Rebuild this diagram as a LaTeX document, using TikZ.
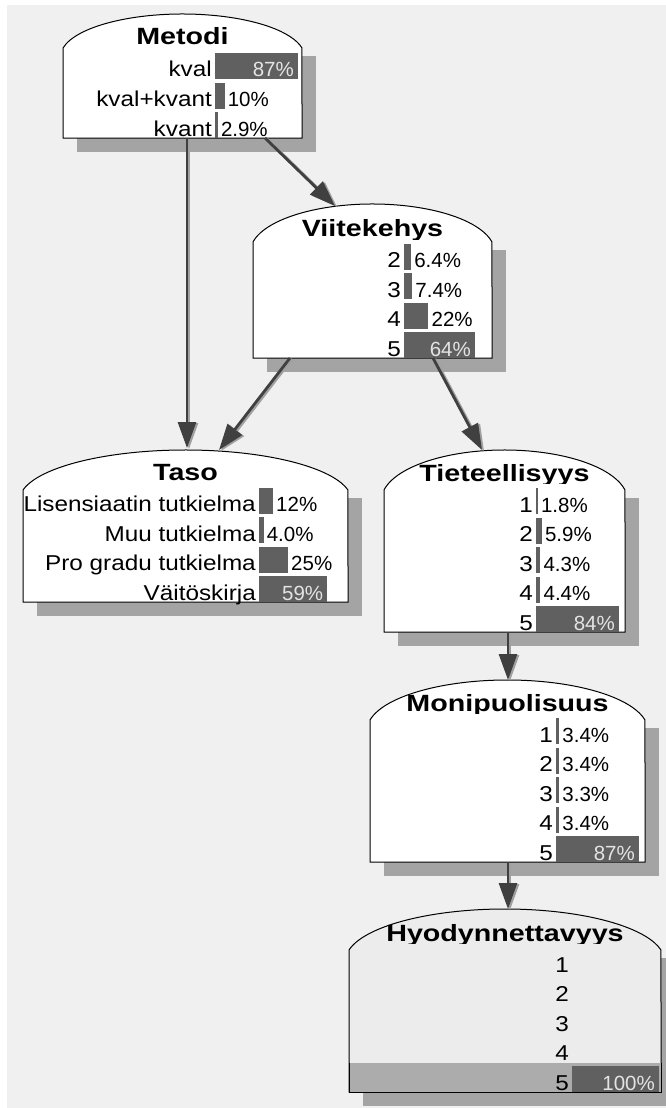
\documentclass[tikz,border=0pt]{standalone}
\usepackage{fontspec}
\setmainfont{Liberation Sans}
\newfontfamily\lblfont[FakeStretch=1.13]{Liberation Sans}
\newfontfamily\pctfont{Liberation Sans}
\newfontfamily\ttlfont[FakeStretch=1.22]{Liberation Sans}
\usetikzlibrary{arrows.meta,calc}

\definecolor{bgc}{HTML}{F0F0F0}
\definecolor{shadowc}{HTML}{A4A4A4}
\definecolor{barc}{HTML}{606060}
\definecolor{arrowc}{HTML}{404040}
\definecolor{arrowsh}{HTML}{A0A0A0}
\definecolor{pcttext}{HTML}{E4E4E4}
\definecolor{hyodfill}{HTML}{ECECEC}
\definecolor{bandc}{HTML}{ACACAC}

\tikzset{
  lbl/.style={inner sep=0pt, anchor=base east, font=\lblfont\fontsize{21.5}{21.5}\selectfont},
  pctout/.style={inner sep=0pt, anchor=base west, font=\pctfont\fontsize{20.5}{20.5}\selectfont},
  pctin/.style={pctout, anchor=base east, text=pcttext},
  ttl/.style={inner sep=0pt, anchor=base, font=\ttlfont\bfseries\fontsize{23.5}{23.5}\selectfont},
  edgeline/.style={line width=2.8pt, draw=arrowc, -{Triangle[length=26pt,width=18pt]}},
  edgeshadow/.style={edgeline, draw=arrowsh, transform canvas={xshift=2pt,yshift=-1pt}},
}

% box with rounded top: name, left, right, arc top, side top, bottom, fill
\newcommand\netbox[7]{%
  \pgfmathsetmacro\ra{(#3-#2)/2/cos(12)}%
  \pgfmathsetmacro\rb{(#5-#4)/(1-sin(12))}%
  \fill[shadowc] (#2+14,#5+8) rectangle (#3+14,#6+14);
  \node[inner sep=0pt, outer sep=0pt, minimum width={#3-#2}, minimum height={#6-#4}, anchor=north west] (#1) at (#2,#4) {};
  \draw[line width=1pt, fill=#7] (#2,#6) -- (#2,#5)
    arc[start angle=192, end angle=348, x radius=\ra, y radius=\rb] -- (#3,#6) -- cycle;
}
% title clipped just below its baseline: name, left, right, top, baseline, text
\newcommand\nettitle[6]{%
  \begin{scope}
    \clip (#2,#4) rectangle (#3,#5+2.5);
    \node[ttl] (#1) at ({(#2+#3)/2},#5) {#6};
  \end{scope}
}
% state label: name, bar base x, row bottom, text
\newcommand\rowlbl[4]{\node[lbl] (#1) at (#2-3,#3-2) {#4};}
% belief bar: name, bar base x, row bottom, width, text, text inside (1) or after (0)
\newcommand\rowbar[6]{%
  \fill[barc] (#2,#3-26) rectangle (#2+#4,#3);
  \ifnum#6=1 \node[pctin] (#1) at (#2+#4-4,#3-2) {#5};%
  \else \node[pctout] (#1) at (#2+#4+3,#3-2) {#5};\fi
}
% link between two boxes: from node, x offset on its bottom, to node, offset on its top
\newcommand\netlink[5]{%
  \draw[edgeshadow] ($(#1.south west)+(#2,0)$) -- ($(#3.north west)+(#4,#5)$);
  \draw[edgeline] ($(#1.south west)+(#2,0)$) -- ($(#3.north west)+(#4,#5)$);
}

\begin{document}
\begin{tikzpicture}[x=1pt,y=-1pt]
\clip (0,0) rectangle (666,1108);
\fill[white] (0,0) rectangle (666,1108);
\fill[bgc] (7,5) rectangle (666,1108);

% ---- Metodi
\netbox{metodi}{63}{302}{14}{48}{138}{white}
\nettitle{metodiT}{63}{302}{10}{45}{Metodi}
\rowlbl{metodiL1}{215}{79}{kval}
\rowbar{metodiP1}{215}{79}{83}{87\%}{1}
\rowlbl{metodiL2}{215}{108.5}{kval+kvant}
\rowbar{metodiP2}{215}{108.5}{9.6}{10\%}{0}
\rowlbl{metodiL3}{215}{138}{kvant}
\rowbar{metodiP3}{215}{138}{2.8}{2.9\%}{0}

% ---- Viitekehys
\netbox{viite}{253}{492}{204}{242}{358}{white}
\nettitle{viiteT}{253}{492}{200}{236.5}{Viitekehys}
\rowlbl{viiteL2}{404}{269.5}{2}
\rowbar{viiteP2}{404}{269.5}{7.1}{6.4\%}{0}
\rowlbl{viiteL3}{404}{299}{3}
\rowbar{viiteP3}{404}{299}{8.2}{7.4\%}{0}
\rowlbl{viiteL4}{404}{328.5}{4}
\rowbar{viiteP4}{404}{328.5}{24.4}{22\%}{0}
\rowlbl{viiteL5}{404}{358}{5}
\rowbar{viiteP5}{404}{358}{71}{64\%}{1}

% ---- Taso
\netbox{taso}{23}{348}{450}{490}{602}{white}
\nettitle{tasoT}{23}{348}{446}{480.5}{Taso}
\rowlbl{tasoL1}{259}{513.5}{Lisensiaatin tutkielma}
\rowbar{tasoP1}{259}{513.5}{14}{12\%}{0}
\rowlbl{tasoL2}{259}{543}{Muu tutkielma}
\rowbar{tasoP2}{259}{543}{4.6}{4.0\%}{0}
\rowlbl{tasoL3}{259}{572.5}{Pro gradu tutkielma}
\rowbar{tasoP3}{259}{572.5}{29}{25\%}{0}
\rowlbl{tasoL4}{259}{602}{Väitöskirja}
\rowbar{tasoP4}{259}{602}{68.4}{59\%}{1}

% ---- Tieteellisyys
\netbox{tiet}{384}{625}{450}{490}{632}{white}
\nettitle{tietT}{384}{625}{446}{481}{Tieteellisyys}
\rowlbl{tietL1}{536}{514}{1}
\rowbar{tietP1}{536}{514}{1.8}{1.8\%}{0}
\rowlbl{tietL2}{536}{543.5}{2}
\rowbar{tietP2}{536}{543.5}{5.8}{5.9\%}{0}
\rowlbl{tietL3}{536}{573}{3}
\rowbar{tietP3}{536}{573}{4.3}{4.3\%}{0}
\rowlbl{tietL4}{536}{602.5}{4}
\rowbar{tietP4}{536}{602.5}{4.4}{4.4\%}{0}
\rowlbl{tietL5}{536}{632}{5}
\rowbar{tietP5}{536}{632}{83}{84\%}{1}

% ---- Monipuolisuus
\netbox{moni}{370}{645}{680}{720}{862}{white}
\nettitle{moniT}{370}{645}{676}{711}{Monipuolisuus}
\rowlbl{moniL1}{556}{744}{1}
\rowbar{moniP1}{556}{744}{3.2}{3.4\%}{0}
\rowlbl{moniL2}{556}{773.5}{2}
\rowbar{moniP2}{556}{773.5}{3.2}{3.4\%}{0}
\rowlbl{moniL3}{556}{803}{3}
\rowbar{moniP3}{556}{803}{3.2}{3.3\%}{0}
\rowlbl{moniL4}{556}{832.5}{4}
\rowbar{moniP4}{556}{832.5}{3.2}{3.4\%}{0}
\rowlbl{moniL5}{556}{862}{5}
\rowbar{moniP5}{556}{862}{83}{87\%}{1}

% ---- Hyodynnettavyys (state 5 selected)
\netbox{hyod}{349}{661}{909}{950}{1092}{hyodfill}
\fill[bandc] (349,1063) rectangle (661,1092);
\draw[line width=1pt] (349,1063) -- (349,1092) -- (661,1092) -- (661,1063);
\nettitle{hyodT}{349}{661}{905}{941}{Hyodynnettavyys}
\rowlbl{hyodL1}{572}{974}{1}
\rowlbl{hyodL2}{572}{1003.5}{2}
\rowlbl{hyodL3}{572}{1033}{3}
\rowlbl{hyodL4}{572}{1062.5}{4}
\rowlbl{hyodL5}{572}{1092}{5}
\rowbar{hyodP5}{572}{1092}{87}{100\%}{1}

% ---- links
\netlink{metodi}{124}{taso}{164}{-2}
\netlink{metodi}{202}{viite}{82}{2}
\netlink{viite}{37}{taso}{196}{0}
\netlink{viite}{180}{tiet}{98}{0}
\netlink{tiet}{124}{moni}{138}{0}
\netlink{moni}{138}{hyod}{159}{0}
\end{tikzpicture}
\end{document}
